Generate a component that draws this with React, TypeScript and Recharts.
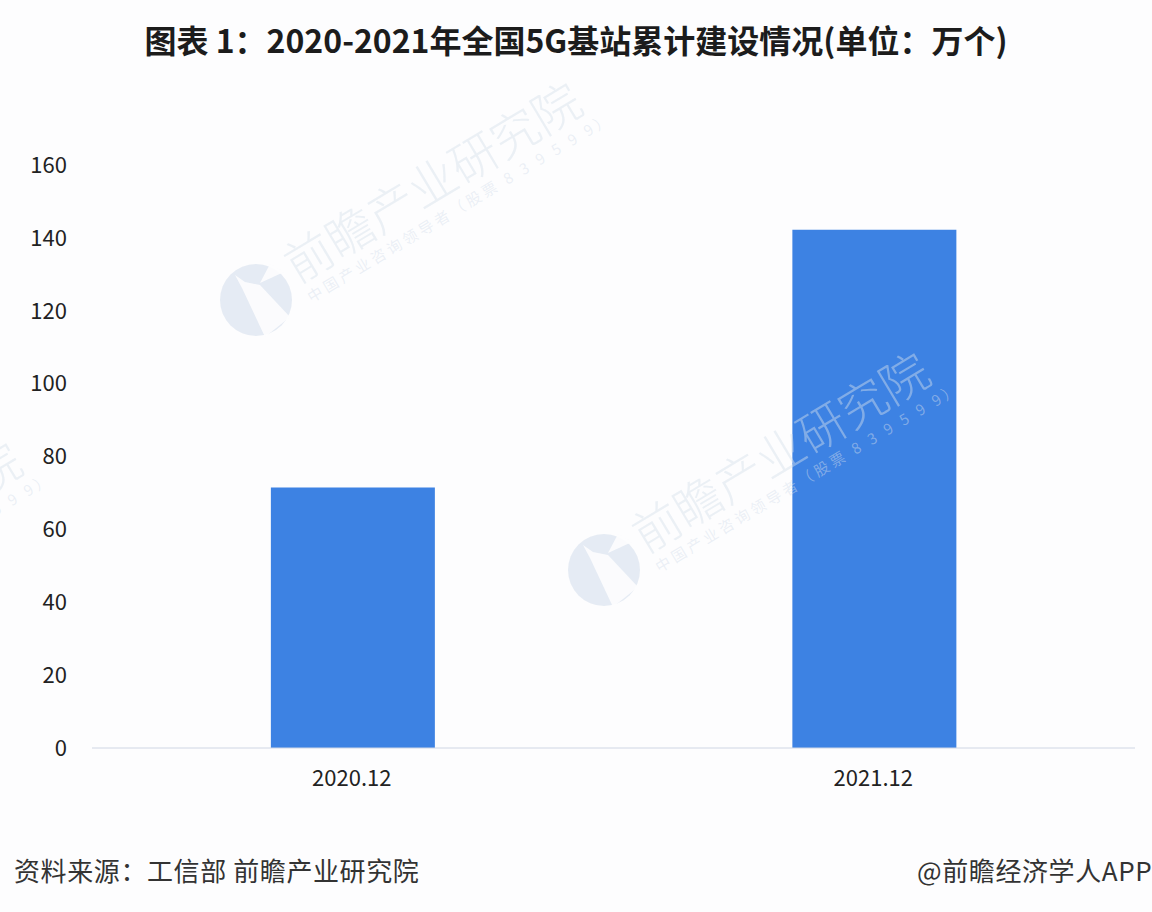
import React from 'react';
import { BarChart, Bar, XAxis, YAxis } from 'recharts';

const categories = ['2020.12', '2021.12'];
const values = [71.5, 142.2];
const yTicks = [0, 20, 40, 60, 80, 100, 120, 140, 160];
const data = categories.map((c, i) => ({ c, v: values[i] }));
const FONT = '"Noto Sans CJK SC", sans-serif';

function Mark({ x, y }: { x: number; y: number }) {
  return (
    <g transform={`translate(${x},${y})`} fontFamily={FONT} fill="#d5dfec" fillOpacity={0.45}>
      <circle cx={0} cy={0} r={36} fillOpacity={0.6} />
      <path d="M-21 -25 L-11 -18 L4 -15 L34 17 L9 37 L-14 -12 Z" fill="#fdfdfe" fillOpacity={0.9} />
      <path d="M14 -36 L4 -17 L28 -28 Z" fill="#fdfdfe" fillOpacity={0.9} />
      <g transform="rotate(-31)">
        <text x={44} y={8} fontSize={48} fontWeight={300}>前瞻产业研究院</text>
        <text x={46} y={31} fontSize={15} letterSpacing={3.5}>中国产业咨询领导者（股票 8 3 9 5 9 9）</text>
      </g>
    </g>
  );
}

export default function App() {
  return (
    <div style={{ position: 'absolute', left: 0, top: 0, width: 1152, height: 912, background: '#fdfdfe', overflow: 'hidden' }}>
      <BarChart width={1152} height={912} data={data} margin={{ top: 165, right: 17, bottom: 134, left: 0 }} barCategoryGap="34.3%">
        <XAxis dataKey="c" height={30} axisLine={{ stroke: '#cfd6e4' }} tickLine={false} tickMargin={16}
          tick={{ fontSize: 22, fill: '#222', fontFamily: FONT, dx: -1 }} />
        <YAxis domain={[0, 160]} ticks={yTicks} axisLine={false} tickLine={false} width={92}
          tick={{ fontSize: 22, fill: '#222', fontFamily: FONT, dx: -17 }} />
        <Bar dataKey="v" fill="#3d82e3" isAnimationActive={false} />
      </BarChart>
      <svg width={1152} height={912} style={{ position: 'absolute', left: 0, top: 0, pointerEvents: 'none' }}>
        <Mark x={256} y={300} />
        <Mark x={604} y={570} />
        <Mark x={-304} y={660} />
      </svg>
      <div style={{ position: 'absolute', left: 0, width: 1152, top: 15, textAlign: 'center', fontFamily: FONT, fontWeight: 700, fontSize: 32, color: '#1c1c1c', lineHeight: '48px', whiteSpace: 'nowrap' }}>图表 1：2020-2021年全国5G基站累计建设情况(单位：万个)</div>
      <div style={{ position: 'absolute', left: 14, top: 852, fontFamily: FONT, fontSize: 26, letterSpacing: 0.6, color: '#333', lineHeight: '36px', whiteSpace: 'nowrap' }}>资料来源：工信部 前瞻产业研究院</div>
      <div style={{ position: 'absolute', left: 917, top: 852, fontFamily: FONT, fontSize: 26, letterSpacing: 0.6, color: '#333', lineHeight: '36px', whiteSpace: 'nowrap' }}>@前瞻经济学人APP</div>
    </div>
  );
}
